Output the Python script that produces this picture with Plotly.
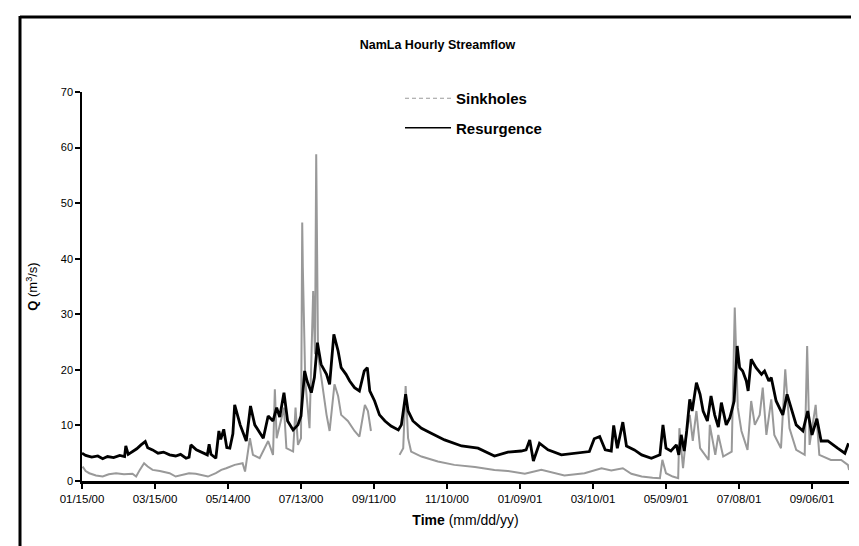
import pandas as pd
import plotly.graph_objects as go

# ---------------- data ----------------
start_date = "2000-01-15"

# Resurgence: day offset from start_date, discharge Q (m3/s)
res_days = [0, 3, 8, 13, 17, 21, 26, 31, 35, 36,
            38, 41, 45, 48.5, 52, 54, 58, 62.5, 67, 72,
            77, 81, 85.5, 88, 89.5, 94, 99.5, 103, 104.5, 106,
            110, 112.5, 114, 116.5, 119, 121.5, 124, 125.5, 130, 135,
            138.5, 142, 149, 153, 157, 160, 162.5, 166, 169, 173.5,
            177.5, 180, 183, 185, 188.5, 191, 193.5, 196.5, 201, 203.5,
            207, 210.5, 213, 217, 220, 224, 228, 232, 234.5, 236.5,
            240.5, 244.5, 249, 254, 260, 262.5, 266, 268, 272, 279,
            287, 298, 312, 325.5, 339, 350, 361, 365, 368, 371,
            376, 383, 394, 407.5, 417, 421, 425.5, 430, 435, 437,
            440, 444.5, 447.5, 454, 460, 468, 475, 477.5, 480, 484,
            488.5, 490.5, 492.5, 495, 497, 499.5, 501.5, 505, 508, 510.5,
            514, 517, 520, 523, 525.5, 529.5, 532.5, 536, 538.5, 540.5,
            543, 546, 547.5, 550, 554, 558.5, 561, 564.5, 566.5, 570.5,
            576, 579.5, 583, 587, 592.5, 596.5, 600, 604, 607.5, 613,
            621, 627, 630]
res_q = [5.0, 4.6, 4.3, 4.5, 4.0, 4.4, 4.2, 4.6, 4.4, 6.3,
         4.8, 5.2, 5.8, 6.5, 7.1, 6.0, 5.6, 5.0, 5.2, 4.7,
         4.5, 4.8, 4.1, 4.3, 6.5, 5.6, 5.0, 4.7, 6.6, 4.8,
         4.1, 9.0, 7.5, 9.3, 6.0, 5.9, 8.5, 13.7, 10.1, 7.2,
         13.5, 10.1, 7.7, 11.7, 10.8, 13.2, 11.5, 15.9, 10.8, 9.2,
         10.1, 11.7, 19.8, 18.0, 15.9, 18.6, 24.9, 21.0, 19.2, 17.4,
         26.4, 23.4, 20.4, 19.2, 18.0, 16.8, 16.2, 19.8, 20.4, 16.2,
         14.4, 11.9, 10.8, 9.9, 9.2, 10.1, 15.6, 12.6, 10.8, 9.5,
         8.6, 7.4, 6.3, 5.9, 4.5, 5.2, 5.4, 5.6, 7.4, 3.6,
         6.8, 5.6, 4.7, 5.0, 5.3, 7.6, 8.0, 5.6, 5.4, 10.0,
         5.9, 10.6, 6.3, 5.6, 4.7, 4.1, 4.7, 10.1, 5.9, 5.4,
         6.5, 4.7, 8.3, 5.4, 9.0, 14.7, 12.6, 17.7, 15.6, 12.6,
         10.8, 15.3, 11.9, 9.7, 14.1, 10.1, 11.4, 14.4, 24.3, 20.4,
         19.8, 18.0, 16.2, 21.9, 20.4, 19.2, 19.8, 18.0, 18.6, 14.4,
         11.9, 15.6, 13.2, 10.1, 9.0, 12.6, 8.3, 11.2, 7.2, 7.2,
         5.9, 5.0, 6.8]

# Sinkholes: day offset, discharge Q (None = missing record)
sink_days = [0.5, 3, 6, 11.5, 17, 22, 28, 34.5, 41.5, 44.5,
             47.5, 51, 54, 58, 64, 72, 77, 83, 88, 93.5,
             99, 103.5, 110, 114.5, 118.5, 125.5, 132, 134, 138, 140.5,
             146, 153, 157, 158.5, 160, 163.5, 166, 168, 173.5, 175.5,
             177.5, 180, 181, 181.5, 183.5, 187, 190, 191.5, 192.5, 194,
             196.5, 201, 203.5, 207.5, 210.5, 213, 218.5, 224, 228, 232.5,
             235, 237.5, 249, 261, 264, 266, 268, 270.5, 279, 292.5,
             306, 323, 339, 350, 364, 377.5, 388.5, 396.5, 413, 427,
             435, 444.5, 451.5, 460, 469, 475, 477, 480, 485.5, 490,
             491, 494, 497, 499.5, 502, 505, 508, 515, 516, 520.5,
             523, 527, 534, 536.5, 539, 542, 547, 550, 553, 557,
             559.5, 562.5, 566.5, 569, 574.5, 578, 581.5, 587, 594, 596,
             598, 603, 606, 615.5, 624, 629.5, 630.5]
sink_q = [2.6, 1.8, 1.4, 1.0, 0.8, 1.2, 1.4, 1.2, 1.3, 0.8,
          2.0, 3.2, 2.6, 2.0, 1.8, 1.4, 0.8, 1.2, 1.4, 1.3,
          1.0, 0.8, 1.4, 2.0, 2.3, 2.9, 3.2, 1.7, 7.7, 4.7,
          4.1, 7.2, 4.7, 16.5, 7.7, 10.8, 13.2, 5.9, 5.3, 13.2,
          6.5, 7.7, 46.5, 38.4, 18.0, 9.5, 34.2, 22.8, 58.8, 22.8,
          18.6, 11.9, 9.0, 17.4, 15.3, 11.9, 10.8, 9.0, 8.0, 13.7,
          12.6, 9.0, None, 4.7, 5.9, 17.1, 7.7, 5.3, 4.4, 3.5,
          2.9, 2.5, 2.0, 1.8, 1.3, 2.0, 1.4, 1.0, 1.4, 2.3,
          1.9, 2.3, 1.3, 0.8, 0.6, 0.5, 3.8, 1.4, 0.8, 0.5,
          9.5, 2.3, 9.0, 11.9, 7.2, 12.6, 5.9, 3.8, 10.1, 4.7,
          8.3, 4.4, 5.3, 31.2, 13.2, 9.0, 5.6, 14.4, 10.1, 11.9,
          16.8, 8.3, 14.7, 8.3, 5.9, 20.1, 9.5, 5.6, 4.7, 24.3,
          6.5, 13.7, 4.7, 3.8, 3.8, 2.9, 2.0]

tick_labels = ["01/15/00", "03/15/00", "05/14/00", "07/13/00", "09/11/00",
               "11/10/00", "01/09/01", "03/10/01", "05/09/01", "07/08/01",
               "09/06/01"]
x_end_days = 630.4
y_ticks = [0, 10, 20, 30, 40, 50, 60, 70]

# ---------------- figure ----------------
W, H = 859, 546
L, R, T, B = 74, 18, 84, 73
PW, PH = W - L - R, H - T - B
FONT = "Liberation Sans, Arial, sans-serif"

base = pd.Timestamp(start_date)
res_x = base + pd.to_timedelta(res_days, unit="D")
sink_x = base + pd.to_timedelta(sink_days, unit="D")
tick_vals = [pd.to_datetime(t, format="%m/%d/%y") for t in tick_labels]

fig = go.Figure()
fig.add_trace(go.Scatter(x=sink_x, y=sink_q, mode="lines", name="Sinkholes",
                         line=dict(color="#999999", width=2), connectgaps=False,
                         showlegend=False, hoverinfo="skip"))
fig.add_trace(go.Scatter(x=res_x, y=res_q, mode="lines", name="Resurgence",
                         line=dict(color="#000000", width=2.8),
                         showlegend=False, hoverinfo="skip"))
# legend entries
fig.add_trace(go.Scatter(x=[None], y=[None], mode="lines", name="Sinkholes",
                         line=dict(color="#9a9a9a", width=1.2, dash="4px,3px"),
                         legendgroup="a"))
fig.add_trace(go.Scatter(x=[None], y=[None], mode="lines", name="Resurgence",
                         line=dict(color="#000000", width=1.5),
                         legendgroup="b"))


def px_x(px):
    return (px - L) / PW


def px_y(py):
    return (H - B - py) / PH


shapes = [
    dict(type="line", xref="paper", yref="paper", x0=px_x(12), x1=px_x(852),
         y0=px_y(9), y1=px_y(9), line=dict(color="black", width=3)),
    dict(type="line", xref="paper", yref="paper", x0=px_x(12), x1=px_x(12),
         y0=px_y(8), y1=px_y(546), line=dict(color="black", width=3)),
    dict(type="line", xref="paper", yref="paper", x0=px_x(851), x1=px_x(851),
         y0=px_y(8), y1=px_y(509), line=dict(color="black", width=2)),
    dict(type="line", xref="paper", yref="paper", x0=px_x(820), x1=px_x(859),
         y0=px_y(541), y1=px_y(541), line=dict(color="#555555", width=2)),
]

fig.update_layout(
    width=W, height=H,
    margin=dict(l=L, r=R, t=T, b=B),
    paper_bgcolor="white", plot_bgcolor="white",
    font=dict(family=FONT, color="black", size=12),
    title=dict(text="<b>NamLa Hourly Streamflow</b>", x=0.5, xanchor="center",
               y=1 - 37 / H, yanchor="middle", yref="container",
               font=dict(family=FONT, size=12.5, color="black")),
    showlegend=True,
    legend=dict(x=px_x(392), y=px_y(74), xanchor="left", yanchor="top",
                bgcolor="rgba(0,0,0,0)", borderwidth=0,
                font=dict(family=FONT, size=15, color="black", weight="bold"),
                traceorder="grouped", tracegroupgap=7, itemwidth=46),
    shapes=shapes,
)

fig.update_xaxes(
    type="date",
    range=[base, base + pd.Timedelta(days=x_end_days)],
    tickvals=tick_vals, ticktext=tick_labels,
    showline=True, linecolor="black", linewidth=3,
    ticks="outside", ticklen=5, tickwidth=1.5, tickcolor="black",
    showgrid=False, zeroline=False,
    tickfont=dict(family=FONT, size=11.5, color="black"),
    title=dict(text="<b>Time</b> (mm/dd/yy)", standoff=12,
               font=dict(family=FONT, size=14, color="black")),
)
fig.update_yaxes(
    range=[0, 70], tickvals=y_ticks,
    showline=True, linecolor="black", linewidth=1.5,
    ticks="outside", ticklen=5, tickwidth=1.5, tickcolor="black",
    showgrid=False, zeroline=False,
    tickfont=dict(family=FONT, size=11, color="black"),
    title=dict(text="<b>Q</b> (m<sup>3</sup>/s)", standoff=20,
               font=dict(family=FONT, size=13, color="black")),
)

fig.write_html("out.html")
